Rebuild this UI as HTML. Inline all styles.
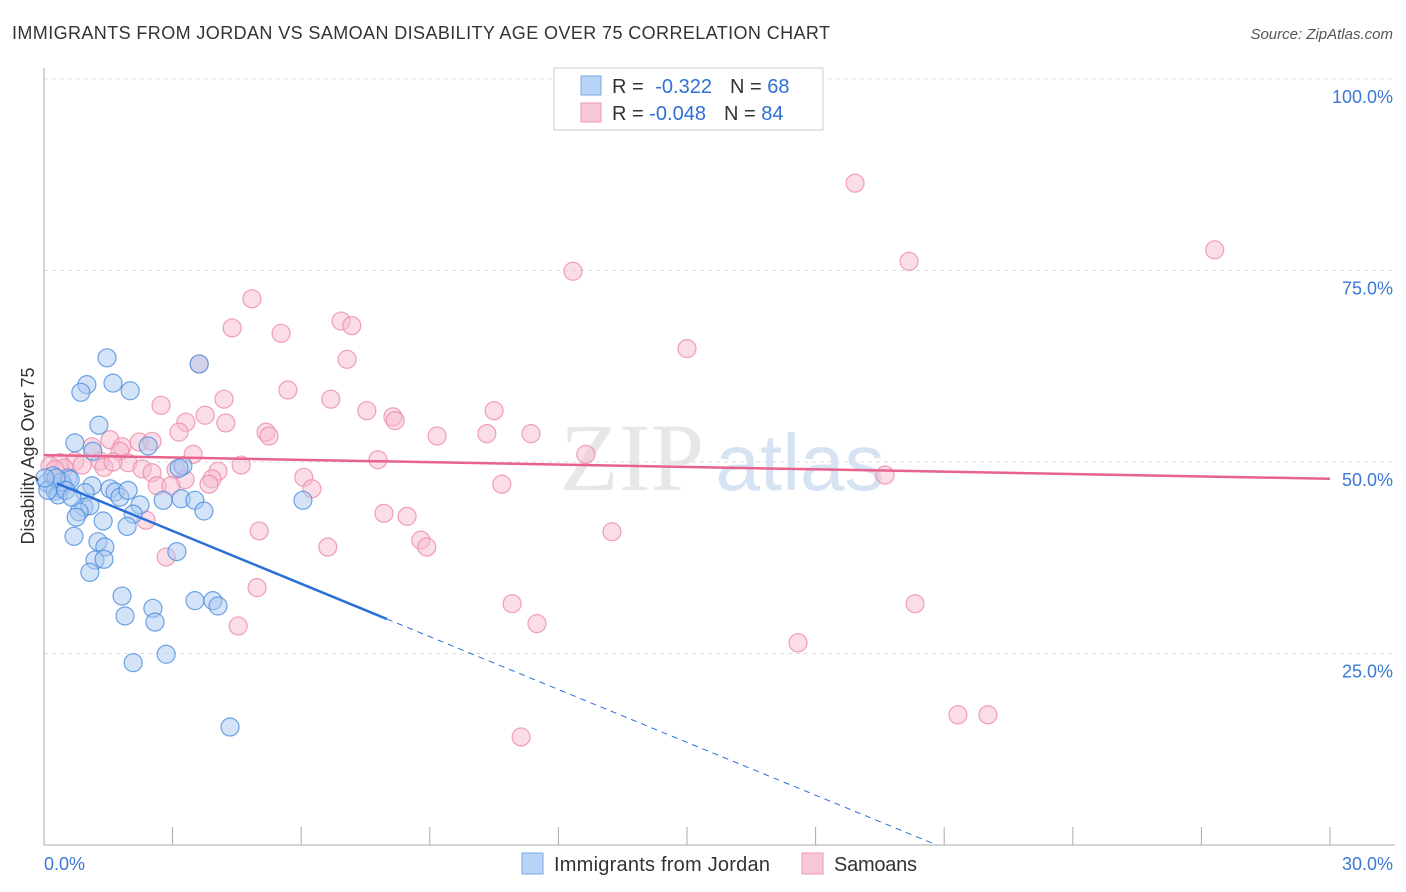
<!DOCTYPE html>
<html><head><meta charset="utf-8"><style>
body{margin:0;background:#fff;font-family:"Liberation Sans",sans-serif;}
svg{display:block}
</style></head><body>
<svg id="chart" width="1406" height="892">
<text x="12" y="39" font-size="18" fill="#333" textLength="818">IMMIGRANTS FROM JORDAN VS SAMOAN DISABILITY AGE OVER 75 CORRELATION CHART</text>
<text x="1393" y="39" font-size="15" fill="#555" font-style="italic" text-anchor="end">Source: ZipAtlas.com</text>
<g>
<text x="632" y="490" font-size="96" fill="#ddd" font-family="Liberation Serif,serif" text-anchor="middle" opacity="0.7">ZIP</text>
<text x="800" y="490" font-size="80" fill="#c5d8ee" text-anchor="middle" opacity="0.7">atlas</text>
</g>
<g id="grid"></g>
<g id="axes"></g>
<g id="marks"></g>
<text x="34" y="456" font-size="18" fill="#333" text-anchor="middle" transform="rotate(-90 34 456)">Disability Age Over 75</text>
<g>
<rect x="554" y="68" width="269" height="62" fill="#fff" stroke="#ccc"/>
<rect x="581" y="76" width="20" height="19" fill="#b7d3f5" stroke="#7aa9e6"/>
<rect x="581" y="103" width="20" height="19" fill="#f9c8d6" stroke="#ec9ab2"/>
<text x="612" y="93" font-size="20" fill="#333">R = <tspan fill="#2f6fd6" dx="6">-0.322</tspan><tspan dx="18" fill="#333">N = </tspan><tspan fill="#2f6fd6">68</tspan></text>
<text x="612" y="120" font-size="20" fill="#333">R = <tspan fill="#2f6fd6">-0.048</tspan><tspan dx="18" fill="#333">N = </tspan><tspan fill="#2f6fd6">84</tspan></text>
</g>
<g>
<rect x="522" y="853" width="21" height="21" fill="#b7d3f5" stroke="#7aa9e6"/>
<text x="554" y="871" font-size="20" fill="#333" textLength="216">Immigrants from Jordan</text>
<rect x="802" y="853" width="21" height="21" fill="#f9c8d6" stroke="#ec9ab2"/>
<text x="834" y="871" font-size="20" fill="#333" textLength="83">Samoans</text>
</g>
</svg>
<script>
const xTicksPct=[0,3,6,9,12,15,18,21,24,27,30];
const yTicks=[25,50,75,100];
const yTickLabels=["25.0%","50.0%","75.0%","100.0%"];
const xEndLabels=["0.0%","30.0%"];
const jordanX=[1.47,1.61,1.00,0.86,2.01,1.28,0.72,2.43,1.14,3.24,3.15,0.56,1.12,1.54,0.37,0.19,0.07,0.26,0.44,0.33,0.96,1.66,1.77,1.96,2.78,3.20,3.52,2.24,3.73,0.93,1.07,0.82,0.75,1.38,2.08,1.94,0.70,1.26,1.42,1.19,1.40,1.07,3.10,1.82,2.54,1.89,2.59,3.52,3.94,4.06,2.85,2.08,4.34,6.04,3.62,0.21,0.42,0.61,0.28,0.09,0.51,0.02,0.65];
const jordanY=[63.6,60.3,60.1,59.1,59.3,54.8,52.5,52.1,51.4,49.5,49.2,47.9,46.9,46.5,46.6,46.9,47.3,46.2,46.9,45.7,46.0,46.1,45.4,46.3,45.0,45.2,45.0,44.4,43.6,44.1,44.3,43.5,42.8,42.3,43.2,41.6,40.3,39.6,38.9,37.2,37.3,35.6,38.3,32.5,30.9,29.9,29.1,31.9,31.9,31.2,24.9,23.8,15.4,45.0,62.8,48.2,47.4,47.7,47.9,46.3,46.3,47.9,45.4];
const samoanX=[18.92,27.31,20.18,12.34,4.85,6.93,7.18,4.39,5.53,15.00,7.07,3.62,5.69,4.20,6.69,2.73,10.50,7.53,3.76,8.14,8.19,3.31,4.24,3.15,5.18,5.25,9.17,10.33,11.36,1.54,2.22,1.12,1.82,1.77,3.48,12.64,2.52,7.79,4.60,1.96,1.31,0.72,0.37,0.14,0.47,0.89,1.40,2.29,1.61,2.52,3.08,4.06,6.06,3.29,3.92,2.64,2.96,3.85,10.68,6.25,19.62,2.38,7.93,8.47,5.02,13.25,8.79,8.93,6.62,2.85,4.97,10.92,20.32,4.53,11.50,17.59,21.32,22.02,11.13,0.26];
const samoanY=[86.4,77.7,76.2,74.9,71.3,68.4,67.8,67.5,66.8,64.8,63.4,62.8,59.4,58.2,58.2,57.4,56.7,56.7,56.1,55.9,55.4,55.2,55.1,53.9,53.9,53.4,53.4,53.7,53.7,52.9,52.6,52.0,52.0,51.4,51.0,51.0,52.7,50.3,49.6,49.9,50.1,50.1,49.9,49.5,49.2,49.6,49.3,49.1,50.0,48.6,49.0,48.8,48.0,47.7,47.8,46.9,46.9,47.1,47.1,46.5,48.3,42.4,43.3,42.9,41.0,40.9,39.8,38.9,38.9,37.6,33.6,31.5,31.5,28.6,28.9,26.4,17.0,17.0,14.1,49.0];
const jordanTrend=[47.9,-2.3];
const samoanTrend=[50.9,-0.103];

const NS="http://www.w3.org/2000/svg";
const X0=44,X1=1330,Y0=845,Y100=79;
const sx=v=>X0+(X1-X0)*v/30;
const sy=v=>Y0-(Y0-Y100)*v/100;
function mk(tag,attrs,parent){const e=document.createElementNS(NS,tag);for(const k in attrs)e.setAttribute(k,attrs[k]);parent.appendChild(e);return e;}
const grid=document.getElementById('grid'),axes=document.getElementById('axes'),marks=document.getElementById('marks');
yTicks.forEach((t,i)=>{
  const l=mk('line',{x1:X0,x2:1395,y1:sy(t),y2:sy(t),stroke:'#ddd','stroke-dasharray':'4,4'},grid);
  
  
  const tx=mk('text',{x:1393,y:sy(t)+24,'font-size':18,fill:'#3a78d4','text-anchor':'end'},grid);
  tx.textContent=yTickLabels[i];
  
  
});
const ax=mk('line',{x1:X0,x2:X0,y1:68,y2:Y0,stroke:'#aaa'},axes);


const bx=mk('line',{x1:X0,x2:1395,y1:Y0,y2:Y0,stroke:'#aaa'},axes);


xTicksPct.forEach(t=>{
  const l=mk('line',{x1:sx(t),x2:sx(t),y1:827,y2:Y0,stroke:'#aaa'},axes);
  
  
});
[[0,'start',44],[30,'end',1393]].forEach((d,i)=>{
  const t=mk('text',{x:d[2],y:870,'font-size':18,fill:'#3a78d4','text-anchor':d[1]},axes);
  t.textContent=xEndLabels[i];
  
  
});
function dots(xs,ys,fill,stroke,name){
  xs.forEach((x,i)=>{
    const c=mk('circle',{cx:sx(x),cy:sy(ys[i]),r:9,fill:fill,'fill-opacity':0.5,stroke:stroke,'stroke-width':1.2,'stroke-opacity':0.8},marks);
    
    
  });
}
dots(samoanX,samoanY,'#f7bcd0','#ec8aa8','samoan-point');
dots(jordanX,jordanY,'#a9c8f0','#4a8ee0','jordan-point');
const f=(tr,x)=>tr[0]+tr[1]*x;
const pl=mk('line',{x1:sx(0),y1:sy(f(samoanTrend,0)),x2:sx(30),y2:sy(f(samoanTrend,30)),stroke:'#e8628c','stroke-width':2.5},marks);


const xz=-jordanTrend[0]/jordanTrend[1];
const bl=mk('line',{x1:sx(0.3),y1:sy(f(jordanTrend,0.3)),x2:sx(8),y2:sy(f(jordanTrend,8)),stroke:'#2a6fd8','stroke-width':2.5},marks);


const bd=mk('line',{x1:sx(8),y1:sy(f(jordanTrend,8)),x2:sx(xz),y2:sy(0),stroke:'#2a6fd8','stroke-width':1,'stroke-dasharray':'6,5'},marks);


</script>
</body></html>
